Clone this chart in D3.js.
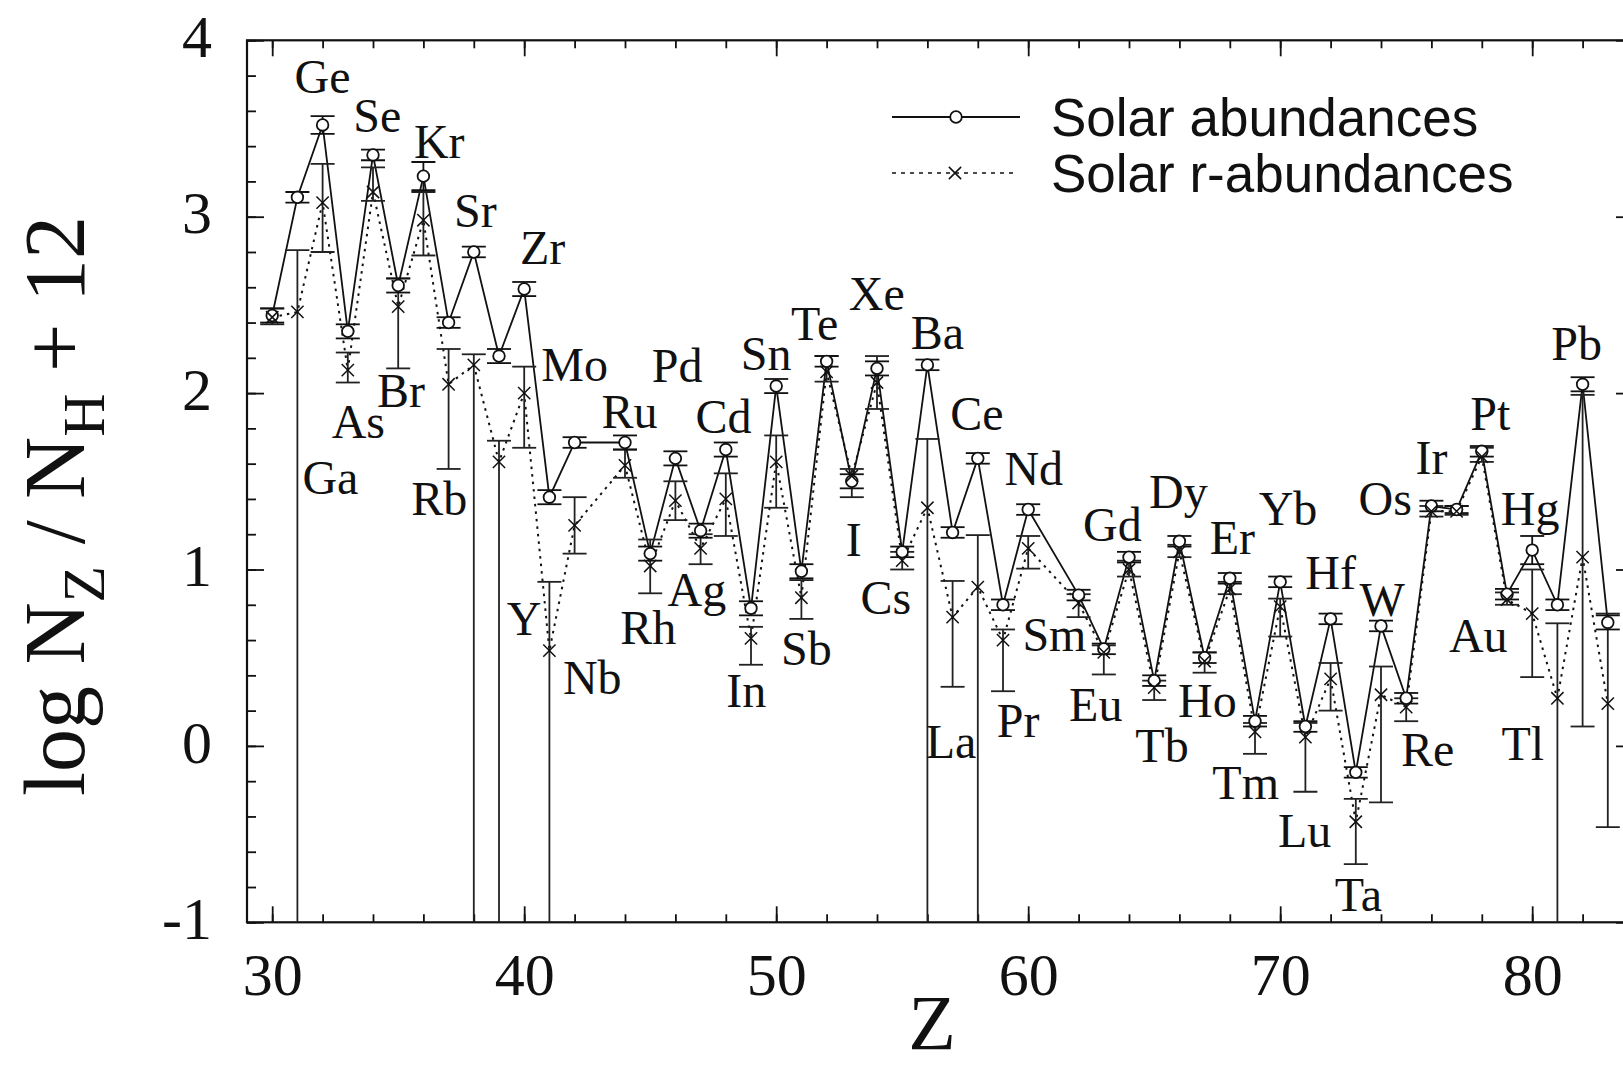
<!DOCTYPE html>
<html>
<head>
<meta charset="utf-8">
<script src="https://cdn.jsdelivr.net/npm/d3@7"></script>
<style>
  body { margin: 0; background: #fff; }
  svg { display: block; }
</style>
</head>
<body>
<svg id="chart" width="1623" height="1067"></svg>
<script>
// Elements with data (Tc and Pm have none)
const elements = ["Zn","Ga","Ge","As","Se","Br","Kr","Rb","Sr","Y","Zr","Nb","Mo",
  "Ru","Rh","Pd","Ag","Cd","In","Sn","Sb","Te","I","Xe","Cs","Ba","La","Ce","Pr","Nd",
  "Sm","Eu","Gd","Tb","Dy","Ho","Er","Tm","Yb","Lu","Hf","Ta","W","Re","Os","Ir","Pt","Au","Hg","Tl","Pb","Bi"];
const atomicNumbers = [30,31,32,33,34,35,36,37,38,39,40,41,42,
  44,45,46,47,48,49,50,51,52,53,54,55,56,57,58,59,60,
  62,63,64,65,66,67,68,69,70,71,72,73,74,75,76,77,78,79,80,81,82,83];

// Solar abundances (log N_Z/N_H + 12) and their errors
const solar = [2.44,3.11,3.52,2.35,3.35,2.61,3.23,2.40,2.80,2.21,2.59,1.41,1.72,
  1.72,1.09,1.63,1.22,1.68,0.78,2.04,0.99,2.18,1.50,2.14,1.10,2.16,1.21,1.63,0.80,1.34,
  0.855,0.55,1.07,0.37,1.16,0.50,0.95,0.14,0.93,0.11,0.72,-0.15,0.68,0.27,1.36,1.34,1.67,0.86,1.11,0.80,2.05,0.70];
const solarErr = [0.04,0.03,0.05,0.04,0.03,0.04,0.08,0.03,0.03,0.04,0.04,0.04,0.03,
  0.04,0.04,0.04,0.04,0.04,0.04,0.04,0.04,0.03,0.04,0.04,0.03,0.03,0.03,0.03,0.03,0.03,
  0.03,0.03,0.03,0.03,0.03,0.03,0.03,0.03,0.03,0.03,0.03,0.03,0.03,0.03,0.03,0.02,0.03,0.03,0.08,0.03,0.04,0.04];

// Solar r-process abundances with lower / upper limits (null: no lower limit)
const rAbund = [2.43,2.46,3.08,2.13,3.14,2.49,2.98,2.05,2.16,1.61,2.00,0.54,1.25,
  1.59,1.02,1.39,1.12,1.40,0.61,1.61,0.84,2.12,1.53,2.06,1.05,1.35,0.73,0.90,0.60,1.12,
  0.81,0.53,1.00,0.33,1.10,0.48,0.89,0.08,0.79,0.05,0.38,-0.43,0.29,0.22,1.33,1.33,1.64,0.83,0.75,0.27,1.07,0.24];
const rLow = [2.39,null,2.80,2.06,3.09,2.14,2.78,1.57,null,null,1.69,null,1.09,
  1.52,0.865,1.28,1.03,1.19,0.46,1.35,0.72,2.065,1.41,1.91,1.00,null,0.335,null,0.31,1.005,
  0.73,0.405,0.96,0.26,1.07,0.415,0.86,-0.045,0.62,-0.26,0.20,-0.67,-0.32,0.14,1.30,1.31,1.61,0.80,0.39,null,0.11,-0.46];
const rHigh = [2.48,2.81,3.30,2.23,3.28,2.65,3.14,2.25,2.22,1.73,2.15,0.93,1.41,
  1.68,1.17,1.50,1.20,1.545,0.675,1.76,0.94,2.21,1.57,2.21,1.10,1.74,0.935,1.195,0.66,1.19,
  0.86,0.57,1.05,0.37,1.14,0.53,0.93,0.13,0.835,0.13,0.47,-0.30,0.45,0.27,1.36,1.36,1.69,0.87,1.00,0.695,1.99,0.75];

// Element name annotations, anchored in data units (Z, value)
const labelNames = ["Ge","Se","Kr","Sr","Zr","Mo","Ru","Pd","Cd","Sn","Te","Xe","Ba","Ce","Nd","Gd","Dy","Er","Yb","Hf","W","Os","Ir","Pt","Hg","Pb",
  "Ga","As","Br","Rb","Y","Nb","Rh","Ag","In","Sb","I","Cs","La","Pr","Sm","Eu","Tb","Ho","Tm","Lu","Ta","Re","Au","Tl"];
const labelZ = [32.0,34.17,36.63,38.06,40.73,42.0,44.18,46.07,47.91,49.6,51.53,53.99,56.4,57.96,60.22,63.34,65.96,68.1,70.31,72.0,74.05,74.17,76.0,78.34,79.92,81.76,
  32.31,33.42,35.11,36.63,40.0,42.7,44.92,46.85,48.81,51.2,53.08,54.35,56.94,59.6,61.04,62.68,65.31,67.11,68.63,70.97,73.1,75.85,77.86,79.63];
const labelV = [3.79,3.57,3.42,3.03,2.82,2.16,1.89,2.15,1.865,2.22,2.39,2.56,2.34,1.88,1.57,1.25,1.44,1.18,1.34,0.98,0.825,1.40,1.63,1.88,1.34,2.28,
  1.52,1.835,2.01,1.40,0.72,0.385,0.667,0.884,0.309,0.55,1.166,0.837,0.022,0.14,0.63,0.232,0.0,0.256,-0.214,-0.484,-0.847,-0.025,0.62,0.01];

const xTickLabels = [30,40,50,60,70,80];
const yTickLabels = [-1,0,1,2,3,4];

(function draw() {
  const points = atomicNumbers.map((z, i) => ({
    z, el: elements[i], s: solar[i], se: solarErr[i], r: rAbund[i], rlo: rLow[i], rhi: rHigh[i]
  }));

  const svg = d3.select("#chart");
  const pLeft = 247, pRight = 1633, pTop = 40.3, pBottom = 922.3;
  const x = d3.scaleLinear().domain([29, 84]).range([pLeft, pRight]);
  const y = d3.scaleLinear().domain([-1, 4]).range([pBottom, pTop]);

  const serif = "'Liberation Serif', 'Times New Roman', serif";
  const sans = "'Liberation Sans', Arial, sans-serif";
  const ink = "#111";

  svg.append("defs").append("clipPath").attr("id", "plotClip")
    .append("rect").attr("x", pLeft).attr("y", pTop).attr("width", pRight - pLeft).attr("height", pBottom - pTop);

  // Axes: inward ticks on all four sides
  const xMinor = d3.range(30, 84.5, 2);
  const yMinor = d3.range(-1, 4.01, 0.2);

  function styleAxis(g) {
    g.select(".domain").remove();
    g.selectAll(".tick line").attr("stroke", ink).attr("stroke-width", 1.8);
  }
  svg.append("g").attr("transform", `translate(0,${pBottom})`)
    .call(d3.axisBottom(x).tickValues(xMinor).tickSize(-8).tickFormat(""))
    .call(styleAxis);
  svg.append("g").attr("transform", `translate(0,${pTop})`)
    .call(d3.axisTop(x).tickValues(xMinor).tickSize(-8).tickFormat(""))
    .call(styleAxis);
  const xAxis = svg.append("g").attr("transform", `translate(0,${pBottom})`)
    .call(d3.axisBottom(x).tickValues(xTickLabels).tickSize(-16).tickPadding(30).tickFormat(d => String(d)))
    .call(styleAxis);
  svg.append("g").attr("transform", `translate(0,${pTop})`)
    .call(d3.axisTop(x).tickValues(xTickLabels).tickSize(-16).tickFormat(""))
    .call(styleAxis);
  xAxis.selectAll("text").attr("font-family", serif).attr("font-size", 60).attr("fill", ink);

  svg.append("g").attr("transform", `translate(${pLeft},0)`)
    .call(d3.axisLeft(y).tickValues(yMinor).tickSize(-9).tickFormat(""))
    .call(styleAxis);
  svg.append("g").attr("transform", `translate(${pRight},0)`)
    .call(d3.axisRight(y).tickValues(yMinor).tickSize(-9).tickFormat(""))
    .call(styleAxis);
  const yAxis = svg.append("g").attr("transform", `translate(${pLeft},0)`)
    .call(d3.axisLeft(y).tickValues(yTickLabels).tickSize(-17).tickPadding(35).tickFormat(d => String(d)))
    .call(styleAxis);
  svg.append("g").attr("transform", `translate(${pRight},0)`)
    .call(d3.axisRight(y).tickValues(yTickLabels).tickSize(-17).tickFormat(""))
    .call(styleAxis);
  yAxis.selectAll("text").attr("font-family", serif).attr("font-size", 60).attr("fill", ink).attr("dy", "0.27em");

  // Plot frame
  svg.append("rect").attr("x", pLeft).attr("y", pTop).attr("width", pRight - pLeft).attr("height", pBottom - pTop)
    .attr("fill", "none").attr("stroke", ink).attr("stroke-width", 2.2);

  const plot = svg.append("g").attr("clip-path", "url(#plotClip)");
  const capHalf = 12;

  // Connecting lines
  plot.append("path").datum(points)
    .attr("d", d3.line().x(d => x(d.z)).y(d => y(d.r)))
    .attr("fill", "none").attr("stroke", ink).attr("stroke-width", 2)
    .attr("stroke-dasharray", "2.5,5");
  plot.append("path").datum(points)
    .attr("d", d3.line().x(d => x(d.z)).y(d => y(d.s)))
    .attr("fill", "none").attr("stroke", ink).attr("stroke-width", 1.8);

  // r-process error bars
  const rBars = plot.append("g").attr("stroke", "#222").attr("stroke-width", 1.8);
  rBars.selectAll("line.v").data(points).join("line").attr("class", "v")
    .attr("x1", d => x(d.z)).attr("x2", d => x(d.z))
    .attr("y1", d => y(d.rhi)).attr("y2", d => d.rlo === null ? pBottom : y(d.rlo));
  rBars.selectAll("line.hi").data(points).join("line").attr("class", "hi")
    .attr("x1", d => x(d.z) - capHalf).attr("x2", d => x(d.z) + capHalf)
    .attr("y1", d => y(d.rhi)).attr("y2", d => y(d.rhi));
  rBars.selectAll("line.lo").data(points.filter(d => d.rlo !== null)).join("line").attr("class", "lo")
    .attr("x1", d => x(d.z) - capHalf).attr("x2", d => x(d.z) + capHalf)
    .attr("y1", d => y(d.rlo)).attr("y2", d => y(d.rlo));

  // Solar error bars
  const sBars = plot.append("g").attr("stroke", ink).attr("stroke-width", 1.8);
  sBars.selectAll("line.v").data(points).join("line").attr("class", "v")
    .attr("x1", d => x(d.z)).attr("x2", d => x(d.z))
    .attr("y1", d => y(d.s + d.se)).attr("y2", d => y(d.s - d.se));
  sBars.selectAll("line.hi").data(points).join("line").attr("class", "hi")
    .attr("x1", d => x(d.z) - capHalf).attr("x2", d => x(d.z) + capHalf)
    .attr("y1", d => y(d.s + d.se)).attr("y2", d => y(d.s + d.se));
  sBars.selectAll("line.lo").data(points).join("line").attr("class", "lo")
    .attr("x1", d => x(d.z) - capHalf).attr("x2", d => x(d.z) + capHalf)
    .attr("y1", d => y(d.s - d.se)).attr("y2", d => y(d.s - d.se));

  // Solar points: open circles
  plot.selectAll("circle.solar").data(points).join("circle").attr("class", "solar")
    .attr("cx", d => x(d.z)).attr("cy", d => y(d.s)).attr("r", 5.8)
    .attr("fill", "#fff").attr("stroke", ink).attr("stroke-width", 1.8);

  // r-process points: crosses
  const cross = d3.symbol().type(d3.symbolX).size(100);
  plot.selectAll("path.rpt").data(points).join("path").attr("class", "rpt")
    .attr("transform", d => `translate(${x(d.z)},${y(d.r)})`)
    .attr("d", cross).attr("fill", "none").attr("stroke", ink).attr("stroke-width", 1.5);

  // Element names
  svg.append("g").selectAll("text").data(labelNames).join("text")
    .attr("x", (d, i) => x(labelZ[i])).attr("y", (d, i) => y(labelV[i]))
    .attr("dy", "0.33em").attr("text-anchor", "middle")
    .attr("font-family", serif).attr("font-size", 48).attr("fill", ink)
    .text(d => d);

  // Legend
  const legend = svg.append("g");
  legend.append("line").attr("x1", 892).attr("x2", 1020).attr("y1", 117).attr("y2", 117)
    .attr("stroke", ink).attr("stroke-width", 1.8);
  legend.append("circle").attr("cx", 956).attr("cy", 117).attr("r", 5.8)
    .attr("fill", "#fff").attr("stroke", ink).attr("stroke-width", 1.8);
  legend.append("line").attr("x1", 892).attr("x2", 1016).attr("y1", 173).attr("y2", 173)
    .attr("stroke", ink).attr("stroke-width", 1.5).attr("stroke-dasharray", "4,5");
  legend.append("path").attr("transform", "translate(955,173)").attr("d", cross)
    .attr("fill", "none").attr("stroke", ink).attr("stroke-width", 1.5);
  legend.append("text").attr("x", 1051).attr("y", 136)
    .attr("font-family", sans).attr("font-size", 53).attr("fill", ink).text("Solar abundances");
  legend.append("text").attr("x", 1051).attr("y", 192)
    .attr("font-family", sans).attr("font-size", 53).attr("fill", ink).text("Solar r-abundances");

  // Axis titles
  svg.append("text").attr("x", 932).attr("y", 1049).attr("text-anchor", "middle")
    .attr("font-family", serif).attr("font-size", 78).attr("fill", ink).text("Z");

  const yTitle = svg.append("text").attr("transform", "translate(84,506) rotate(-90)")
    .attr("text-anchor", "middle").attr("font-family", serif).attr("font-size", 86).attr("fill", ink);
  yTitle.append("tspan").text("log N");
  yTitle.append("tspan").attr("dy", 20).attr("font-size", 60).text("Z");
  yTitle.append("tspan").attr("dy", -20).text(" / N");
  yTitle.append("tspan").attr("dy", 20).attr("font-size", 60).text("H");
  yTitle.append("tspan").attr("dy", -20).text(" + 12");
})();
</script>
</body>
</html>
